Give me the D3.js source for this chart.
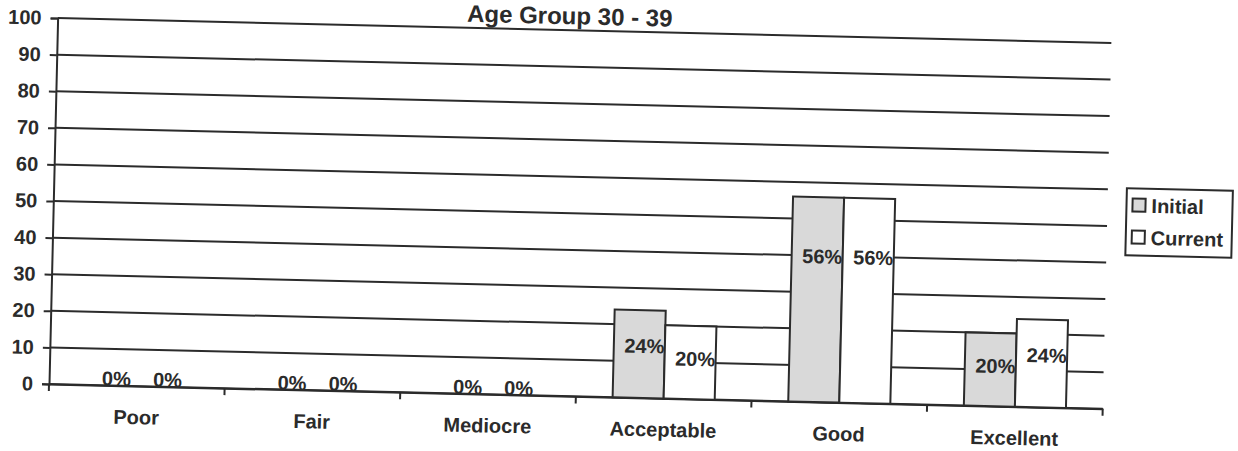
<!DOCTYPE html>
<html>
<head>
<meta charset="utf-8">
<script src="https://cdn.jsdelivr.net/npm/d3@7"></script>
<style>
  html, body { margin: 0; padding: 0; background: #fff; }
  svg { display: block; font-family: "Liberation Sans", Arial, sans-serif; font-weight: bold; }
</style>
</head>
<body>
<svg id="chart" width="1238" height="451"></svg>
<script>
// Rating distribution for the 30 - 39 age group
const categories = ["Poor", "Fair", "Mediocre", "Acceptable", "Good", "Excellent"];
const seriesNames = ["Initial", "Current"];
const initialValues = [0, 0, 0, 24, 56, 20];
const currentValues = [0, 0, 0, 20, 56, 24];
const yTickValues = [0, 10, 20, 30, 40, 50, 60, 70, 80, 90, 100];
const titleText = "Age Group 30 - 39";

const seriesFill = { Initial: "#d9d9d9", Current: "#ffffff" };
const ink = "#2b2b2b";

const margin = { left: 49, top: 18 };
const plotW = 1054, plotH = 366;
const tilt = 1.35; // the printed page sits slightly rotated

const svg = d3.select("#chart");
const root = svg.append("g")
  .attr("transform", `rotate(${tilt}, ${margin.left}, ${margin.top + plotH}) translate(${margin.left}, ${margin.top})`);

const x0 = d3.scaleBand().domain(categories).range([0, plotW]).paddingInner(0).paddingOuter(0);
const x1 = d3.scaleBand().domain(seriesNames).range([0, x0.bandwidth()]).paddingInner(0).paddingOuter(0.72);
const y = d3.scaleLinear().domain([0, 100]).range([plotH, 0]);

// title
root.append("text")
  .attr("x", 512).attr("y", -6)
  .attr("text-anchor", "middle")
  .attr("font-size", 24)
  .attr("fill", ink)
  .text(titleText);

// horizontal gridlines
root.append("g").selectAll("line").data(yTickValues).join("line")
  .attr("x1", 0).attr("x2", plotW)
  .attr("y1", d => y(d)).attr("y2", d => y(d))
  .attr("stroke", ink).attr("stroke-width", 2);

// y axis
const yAxis = root.append("g")
  .call(d3.axisLeft(y).tickValues(yTickValues).tickSize(7).tickPadding(9));
yAxis.select(".domain").attr("stroke", ink).attr("stroke-width", 2);
yAxis.selectAll(".tick line").attr("stroke", ink).attr("stroke-width", 2);
yAxis.selectAll(".tick text")
  .attr("font-size", 20).attr("font-family", "Liberation Sans, Arial, sans-serif")
  .attr("font-weight", "bold").attr("fill", ink);

// category axis: labels under each band, ticks at band boundaries
const xAxis = root.append("g")
  .attr("transform", `translate(0, ${plotH})`)
  .call(d3.axisBottom(x0).tickSize(0).tickPadding(24));
xAxis.select(".domain").attr("stroke", ink).attr("stroke-width", 2);
xAxis.selectAll(".tick text")
  .attr("font-size", 20).attr("font-family", "Liberation Sans, Arial, sans-serif")
  .attr("font-weight", "bold").attr("fill", ink);

const boundaries = categories.map(c => x0(c)).concat([plotW]);
root.append("g").selectAll("line").data(boundaries).join("line")
  .attr("x1", d => d).attr("x2", d => d)
  .attr("y1", plotH).attr("y2", plotH + 7)
  .attr("stroke", ink).attr("stroke-width", 2);

// bars
const rows = categories.map((c, i) => ({
  category: c,
  values: [
    { series: "Initial", value: initialValues[i] },
    { series: "Current", value: currentValues[i] }
  ]
}));

const groups = root.append("g").selectAll("g").data(rows).join("g")
  .attr("transform", d => `translate(${x0(d.category)}, 0)`);

groups.selectAll("rect").data(d => d.values.filter(v => v.value > 0)).join("rect")
  .attr("x", d => x1(d.series))
  .attr("y", d => y(d.value))
  .attr("width", x1.bandwidth())
  .attr("height", d => y(0) - y(d.value))
  .attr("fill", d => seriesFill[d.series])
  .attr("stroke", ink).attr("stroke-width", 2);

// value labels
groups.selectAll("text.val").data(d => d.values).join("text")
  .attr("class", "val")
  .attr("x", d => x1(d.series) + x1.bandwidth() / 2 + 5)
  .attr("y", d => d.value > 0 ? y(0.8 * d.value - 5) + 7 : y(0))
  .attr("text-anchor", "middle")
  .attr("font-size", 20)
  .attr("fill", ink)
  .text(d => d.value + "%");

// legend
const legend = root.append("g").attr("transform", `translate(${1122 - margin.left}, ${163 - margin.top})`);
legend.append("rect")
  .attr("width", 106).attr("height", 67)
  .attr("fill", "#fff").attr("stroke", ink).attr("stroke-width", 2);
const items = legend.selectAll("g").data(seriesNames).join("g")
  .attr("transform", (d, i) => `translate(6, ${10 + i * 32})`);
items.append("rect")
  .attr("width", 13).attr("height", 13)
  .attr("fill", d => seriesFill[d])
  .attr("stroke", ink).attr("stroke-width", 2);
items.append("text")
  .attr("x", 19).attr("y", 14)
  .attr("font-size", 20)
  .attr("fill", ink)
  .text(d => d);
</script>
</body>
</html>
